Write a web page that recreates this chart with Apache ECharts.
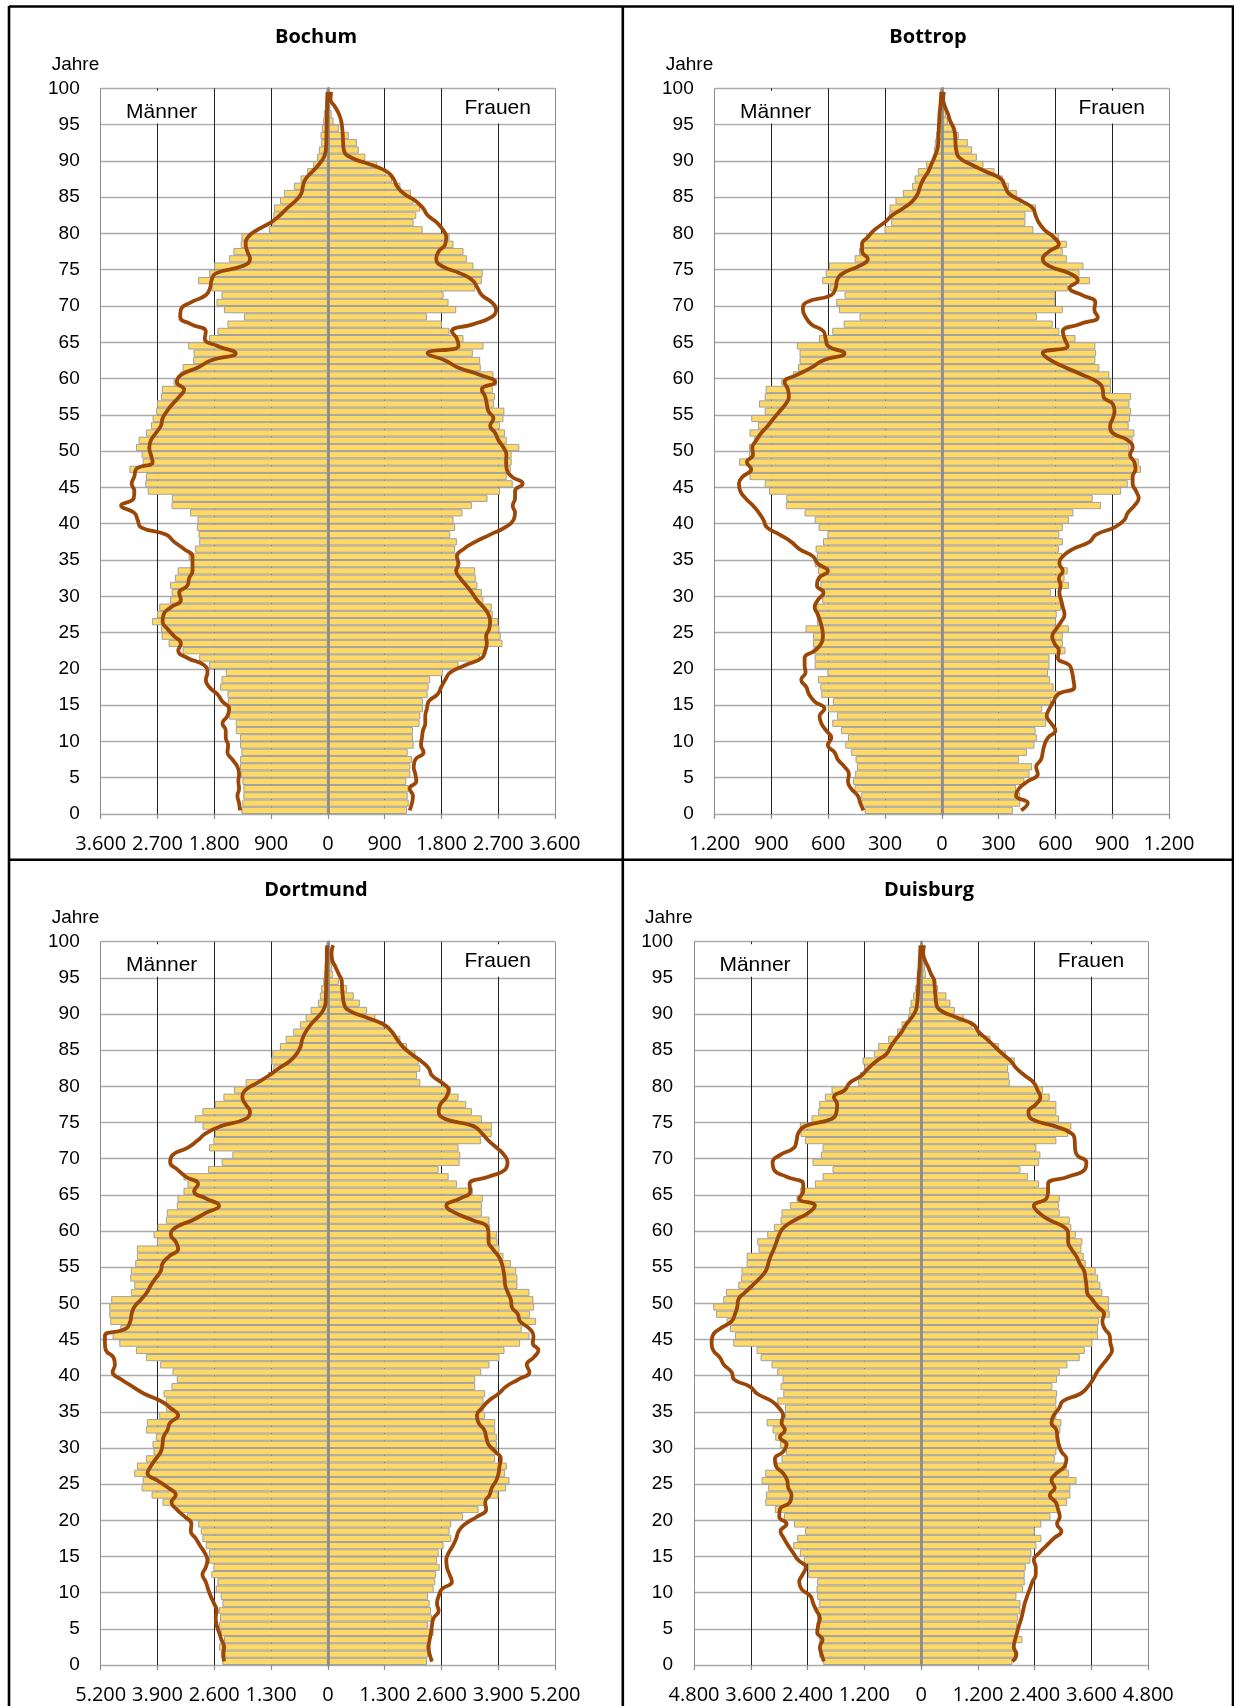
<!DOCTYPE html>
<html lang="de">
<head>
<meta charset="utf-8">
<title>Bevölkerungspyramiden</title>
<script src="https://cdn.jsdelivr.net/npm/echarts@6/dist/echarts.min.js"></script>
<style>
  html, body { margin: 0; padding: 0; background: #fff; }
  #chart { width: 1234px; height: 1706px; }
</style>
</head>
<body>
<div id="chart"></div>
<script>
// Altersjahre 0 bis 99 (Kategorien der Balken)
const ages = Array.from({ length: 100 }, (_, i) => i)

// Bochum
const bochumMen = [1370,1354,1339,1339,1354,1381,1391,1391,1370,1391, 1391,1460,1460,1565,1549,1581,1592,1707,1686,1618, 1881,2039,2303,2524,2635,2646,2788,2709,2672,2503, 2477,2503,2424,2382,2171,2208,2103,2039,2050,2076, 2066,2182,2477,2472,2856,2893,2883,3146,2935,2951, 3041,3000,2883,2804,2777,2719,2709,2646,2630,2445, 2340,2303,2134,2129,2213,1881,1750,1592,1328,1644, 1765,1686,1845,2055,1881,1802,1565,1497,1381,1370, 933,880,864,854,759,696,538,432,327,232, 169,142,105,116,95,74,63,42,32,21]
const bochumWomen = [1254,1281,1265,1281,1244,1307,1307,1333,1265,1360, 1349,1349,1454,1465,1507,1507,1581,1597,1623,1823, 2071,2414,2519,2767,2740,2719,2703,2614,2598,2466, 2440,2371,2345,2335,2045,2045,2018,2045,1939,2018, 1992,2134,2282,2530,2730,2930,2835,2899,2914,2914, 3035,2835,2809,2730,2783,2798,2635,2650,2614,2677, 2624,2424,2414,2298,2466,2150,1929,1808,1570,2034, 1913,1834,2335,2440,2456,2308,2203,2150,1992,1929, 1502,1360,1402,1465,1360,1318,1150,1017,928,780, 595,490,460,332,174,90,60,40,25,15]
const bochumMenLine = [1391,1407,1433,1407,1418,1407,1433,1512,1591,1581, 1618,1618,1671,1591,1565,1671,1750,1881,1934,1908, 1960,2224,2371,2329,2435,2540,2619,2603,2487,2329, 2356,2224,2198,2145,2145,2145,2277,2435,2566,2962, 3014,3067,3278,3077,3067,3109,3067,3041,2777,2804, 2830,2804,2725,2646,2619,2551,2461,2356,2277,2393, 2329,2066,1855,1460,1750,1950,1934,2171,2340,2329, 2171,1934,1866,1845,1776,1354,1233,1275,1302,1265, 1117,906,759,643,511,422,395,353,248,142, 63,32,25,22,20,18,15,12,10,5]
const bochumWomenLine = [1296,1333,1349,1296,1402,1386,1360,1386,1518,1476, 1491,1507,1544,1544,1570,1597,1739,1797,1860,1939, 2176,2440,2493,2519,2509,2556,2572,2545,2466,2361, 2282,2192,2097,2034,2071,2045,2150,2335,2572,2809, 2941,2967,2930,2967,2967,3088,2914,2835,2825,2830, 2783,2704,2651,2572,2624,2545,2519,2493,2440,2651, 2414,2071,1860,1581,2071,2045,1966,2308,2598,2667, 2598,2440,2371,2298,2097,1808,1718,1755,1860,1876, 1823,1729,1581,1507,1386,1202,1096,1043,938,675, 358,253,242,237,227,211,174,110,42,53]

// Bottrop
const bottropMen = [408,426,426,461,470,458,449,456,479,510, 496,532,579,554,602,576,637,642,655,605, 672,672,678,681,681,720,660,663,663,632, 625,642,646,655,672,660,667,628,605,651, 672,725,825,822,913,936,1016,1019,1072,1019, 1019,994,1016,972,1007,936,966,936,931,848, 787,760,752,752,766,649,579,519,435,544, 558,514,593,632,614,597,461,438,417,400, 303,268,280,276,245,206,157,144,127,83, 48,42,37,30,26,21,19,16,12,9]
const bottropWomen = [375,414,414,392,436,463,477,407,449,489, 502,495,551,551,530,577,618,590,572,561, 569,569,653,639,639,671,604,607,630,625, 577,671,648,665,630,635,618,639,621,639, 671,695,841,797,947,982,1008,1052,1040,1005, 991,1008,1017,987,994,1000,991,1000,894,894, 885,832,811,815,811,706,621,586,502,639, 600,600,665,783,727,748,660,639,660,618, 484,442,442,498,419,396,354,322,278,220, 185,160,137,90,58,32,23,18,14,11]
const bottropMenLine = [414,431,444,479,496,491,514,549,567,602, 584,611,637,646,620,672,702,716,743,720, 725,725,672,637,628,632,642,655,672,655, 625,660,650,602,655,681,752,796,857,924, 942,966,998,1037,1065,1072,1051,1007,1030,998, 1001,980,954,919,889,857,825,808,813,831, 766,690,628,514,602,614,625,690,720,734, 716,584,561,554,523,438,391,421,422,391, 356,303,262,202,153,127,114,97,72,56, 39,25,19,18,16,14,12,8,5,3]
const bottropWomenLine = [419,454,392,407,454,507,498,524,533,542, 560,600,577,554,568,590,613,700,695,688, 674,613,618,595,583,604,630,648,639,630, 621,627,618,639,621,639,692,780,815,912, 964,982,1017,1040,1026,1008,1008,1023,1017,994, 1008,982,903,889,903,912,903,854,850,824, 744,656,577,533,665,648,639,727,824,806, 811,741,674,718,674,568,533,565,618,590, 542,512,495,480,419,354,333,313,234,155, 90,76,72,70,63,44,32,16,7,11]

// Dortmund
const dortmundMen = [2414,2452,2490,2376,2452,2490,2468,2490,2414,2452, 2567,2529,2666,2620,2719,2719,2795,2871,2909,2970, 3229,3458,3785,4036,4265,4242,4432,4372,4166,3991, 4014,3938,4166,4143,3861,3709,3709,3762,3580,3458, 3557,3838,4166,4394,4775,4928,4752,4981,5004,5004, 4960,4509,4432,4524,4509,4410,4372,4372,3915,3991, 3899,3709,3686,3458,3442,3305,3214,3305,2742,2430, 2186,2719,2620,2589,2871,3046,2871,2589,2391,2148, 1881,1371,1249,1295,1272,1097,967,792,640,510, 396,228,183,152,107,91,69,53,46,30]
const dortmundWomen = [2270,2292,2270,2346,2422,2292,2384,2361,2330,2292, 2422,2460,2475,2559,2498,2536,2650,2825,2787,2825, 3092,3450,3640,3907,4082,4158,4059,4097,3831,3869, 3869,3869,3831,3831,3602,3564,3564,3602,3374,3374, 3511,3701,3930,4044,4402,4615,4440,4768,4630,4722, 4707,4615,4341,4341,4311,4189,4021,3930,3884,3869, 3717,3701,3526,3526,3549,3321,2955,2765,2536,3016, 3031,2993,3503,3755,3755,3526,3298,3168,2993,2818, 2117,2041,2117,2079,2003,1813,1660,1470,1295,1089, 899,731,594,442,251,122,99,76,61,46]
const dortmundMenLine = [2376,2391,2376,2437,2490,2544,2567,2544,2605,2681, 2742,2795,2871,2795,2757,2818,2925,3024,3138,3123, 3275,3458,3580,3481,3656,3899,4128,4052,3938,3823, 3785,3762,3671,3610,3427,3595,3823,4204,4471,4737, 4928,4874,4905,5080,5103,5103,4623,4524,4493,4432, 4280,4143,4052,3938,3823,3785,3633,3427,3481,3595, 3481,3100,2795,2490,2795,3062,2970,3252,3442,3610, 3557,3214,2985,2795,2452,1881,1782,1881,1957,1881, 1615,1348,1120,868,716,625,586,510,396,244, 107,53,46,38,38,30,30,23,23,15]
const dortmundWomenLine = [2384,2330,2308,2330,2361,2384,2422,2536,2498,2536, 2612,2841,2787,2726,2711,2765,2864,2940,2993,3145, 3412,3625,3602,3701,3755,3854,3907,3930,3960,3831, 3678,3625,3580,3450,3412,3526,3678,3907,4082,4364, 4615,4554,4707,4821,4692,4707,4615,4402,4349,4212, 4189,4120,4059,4044,4021,3983,3907,3778,3678,3678, 3656,3321,2917,2711,3031,3260,3244,3678,4059,4113, 4036,3869,3678,3526,3336,2688,2536,2574,2711,2765, 2612,2384,2308,2132,1904,1714,1584,1470,1295,899, 480,366,343,327,320,251,175,99,84,122]

// Duisburg
const duisburgMen = [2070,2154,2154,2154,2196,2211,2196,2196,2154,2196, 2211,2196,2387,2387,2478,2563,2703,2619,2457,2689, 2900,3091,3295,3281,3231,3372,3295,3055,2950,2858, 2985,3084,3140,3267,2879,2879,3041,2915,2971,2929, 3041,3161,3393,3478,3971,3935,4041,4111,4337,4393, 4182,4125,3865,3809,3795,3689,3689,3436,3464,3252, 3112,2971,2950,2774,2633,2563,2246,2084,1873,2295, 2119,2084,2457,2548,2563,2316,2175,2154,2035,1894, 1331,1295,1204,1239,1000,908,697,507,415,275, 253,225,169,127,84,70,56,42,28,14]
const duisburgWomen = [1929,1978,1978,2140,2028,2028,2049,2098,2098,2013, 2154,2189,2189,2211,2309,2330,2436,2541,2401,2541, 2732,2893,3084,3154,3154,3281,3126,3084,2823,2858, 2893,2858,2943,2964,2858,2858,2858,2872,2774,2872, 2929,3091,3351,3457,3619,3738,3738,3759,3985,3971, 3971,3830,3788,3738,3689,3478,3436,3386,3407,3267, 3175,3140,2929,2915,2929,2717,2492,2260,2098,2492, 2520,2436,2858,3105,3175,2915,2858,2858,2717,2577, 1873,1859,1837,1978,1788,1647,1464,1204,1084,901, 711,620,535,359,253,99,77,56,42,28]
const duisburgMenLine = [2056,2105,2140,2084,2196,2175,2140,2211,2281,2337, 2527,2577,2506,2436,2598,2703,2809,2900,2971,2844, 2999,2985,2774,2739,2809,2830,2915,3069,3091,2915, 2844,2985,2879,2950,2915,2999,3161,3464,3619,3956, 4006,4168,4252,4393,4428,4407,4252,4006,3935,3886, 3865,3724,3562,3407,3281,3231,3182,3112,3055,2999, 2900,2668,2387,2246,2577,2492,2492,2844,3112,3140, 2985,2689,2633,2598,2457,1894,1788,1774,1844,1612, 1506,1260,1119,943,732,641,535,415,324,204, 113,84,70,63,56,49,35,28,21,14]
const duisburgWomenLine = [1929,2013,1957,1985,2028,2070,2119,2154,2189,2239, 2295,2351,2422,2422,2380,2492,2647,2802,2964,2872, 2929,2893,2844,2717,2823,2753,2858,3034,3070,2964, 2908,2879,2858,2753,2802,2915,2999,3365,3527,3633, 3717,3830,3950,4034,3999,3985,3879,3830,3865,3738, 3619,3506,3492,3471,3443,3351,3281,3175,3105,3105, 3034,2717,2492,2380,2647,2682,2682,3105,3457,3492, 3295,3252,3245,3175,2823,2330,2267,2422,2520,2457, 2380,2190,2013,1894,1718,1556,1394,1218,1112,760, 408,317,303,289,282,211,148,77,42,63]

const cities = ['Bochum', 'Bottrop', 'Dortmund', 'Duisburg']
const axisMax = [3600, 1200, 5200, 4800]
const menBars = [bochumMen, bottropMen, dortmundMen, duisburgMen]
const womenBars = [bochumWomen, bottropWomen, dortmundWomen, duisburgWomen]
const menLines = [bochumMenLine, bottropMenLine, dortmundMenLine, duisburgMenLine]
const womenLines = [bochumWomenLine, bottropWomenLine, dortmundWomenLine, duisburgWomenLine]

// Lage der vier Diagramme (px)
const layout = [
  { left: 100.7, top: 88.3, width: 454.3, height: 725.7, center: 316 },
  { left: 714.7, top: 88.3, width: 454.3, height: 725.7, center: 928 },
  { left: 100.7, top: 941.7, width: 454.3, height: 723.3, center: 316 },
  { left: 694, top: 941.7, width: 454.3, height: 723.3, center: 929 }
]

const barFill = '#FFD966'
const barEdge = '#A0A0A0'
const lineBrown = '#9A4708'

const fmt = v => String(Math.abs(v)).replace(/\B(?=(\d{3})+(?!\d))/g, '.')

const chart = echarts.init(document.getElementById('chart'))

const grid = [], xAxis = [], yAxis = [], series = [], graphic = []

layout.forEach((g, i) => {
  grid.push({ left: g.left, top: g.top, width: g.width, height: g.height })

  xAxis.push({
    type: 'value', gridIndex: i,
    min: -axisMax[i], max: axisMax[i], interval: axisMax[i] / 4,
    axisLine: { show: false, onZero: false },
    axisTick: { show: true, length: 5, lineStyle: { color: '#8c8c8c', width: 1.2 } },
    axisLabel: { formatter: fmt, fontFamily: 'Open Sans', fontSize: 20, color: '#000', margin: 20 },
    splitLine: { show: true, lineStyle: { color: ['#8c8c8c', '#222', '#222', '#222', '#222', '#222', '#222', '#222', '#8c8c8c'], width: 1 } }
  })

  // Kategorienachse für die Balken, Achslinie als graue Mittellinie
  yAxis.push({
    type: 'category', gridIndex: i, data: ages, position: 'right', z: 3,
    axisLine: { show: true, onZero: true, lineStyle: { color: '#8a8a8a', width: 2.6 } },
    axisTick: { show: false }, axisLabel: { show: false }, splitLine: { show: false }
  })
  // Werteachse 0 bis 100 Jahre
  yAxis.push({
    type: 'value', gridIndex: i, position: 'left', min: 0, max: 100, interval: 5,
    axisLine: { show: false, onZero: false }, axisTick: { show: false },
    axisLabel: { fontFamily: 'Liberation Sans', fontSize: 19, color: '#000', margin: 21 },
    splitLine: { show: true, lineStyle: { color: '#ababab', width: 1.4 } }
  })

  series.push({
    type: 'bar', name: 'Männer', xAxisIndex: i, yAxisIndex: 2 * i,
    data: menBars[i].map(v => -v),
    barGap: '-100%', barCategoryGap: '0%',
    itemStyle: { color: barFill, borderColor: barEdge, borderWidth: 1 }, z: 2
  })
  series.push({
    type: 'bar', name: 'Frauen', xAxisIndex: i, yAxisIndex: 2 * i,
    data: womenBars[i],
    barGap: '-100%', barCategoryGap: '0%',
    itemStyle: { color: barFill, borderColor: barEdge, borderWidth: 1 }, z: 2
  })
  series.push({
    type: 'line', xAxisIndex: i, yAxisIndex: 2 * i + 1,
    data: ages.map(a => [-menLines[i][a], a + 0.5]),
    smooth: 0.5, symbol: 'none', lineStyle: { color: lineBrown, width: 3.8 }, z: 4
  })
  series.push({
    type: 'line', xAxisIndex: i, yAxisIndex: 2 * i + 1,
    data: ages.map(a => [womenLines[i][a], a + 0.5]),
    smooth: 0.5, symbol: 'none', lineStyle: { color: lineBrown, width: 3.8 }, z: 4
  })

  // Titel, Achsentitel und Beschriftungskästen
  graphic.push({ type: 'text', x: g.center, y: g.top - 51, z: 10,
    style: { text: cities[i], font: 'bold 20px "Open Sans"', fill: '#000', textAlign: 'center', textVerticalAlign: 'middle' } })
  graphic.push({ type: 'text', x: g.left - 49, y: g.top - 24, z: 10,
    style: { text: 'Jahre', font: '19px "Liberation Sans"', fill: '#000', textAlign: 'left', textVerticalAlign: 'middle' } })
  const boxH = g.height * 0.05 - 3.5
  graphic.push({ type: 'rect', z: 1, shape: { x: g.left + 1, y: g.top + 2.5, width: g.width / 4 - 1.5, height: boxH }, style: { fill: '#fff' } })
  graphic.push({ type: 'rect', z: 1, shape: { x: g.left + g.width * 0.75 + 0.8, y: g.top + 2.5, width: g.width / 4 - 1.5, height: boxH }, style: { fill: '#fff' } })
  graphic.push({ type: 'text', x: g.left + 61, y: g.top + 23.5, z: 10,
    style: { text: 'Männer', font: '21px "Liberation Sans"', fill: '#000', textAlign: 'center', textVerticalAlign: 'middle' } })
  graphic.push({ type: 'text', x: g.left + 397, y: g.top + 19.5, z: 10,
    style: { text: 'Frauen', font: '21px "Liberation Sans"', fill: '#000', textAlign: 'center', textVerticalAlign: 'middle' } })
})

// Rahmen um die vier Felder
const frame = [[9, 6.5, 1234, 6.5], [9, 6, 9, 1706], [622.8, 6, 622.8, 1706], [9, 859.7, 1234, 859.7], [1233, 6, 1233, 1706]]
frame.forEach(([x1, y1, x2, y2]) => {
  graphic.push({ type: 'line', z: 10, shape: { x1, y1, x2, y2 }, style: { stroke: '#000', lineWidth: 2.6 } })
})

chart.setOption({
  animation: false,
  backgroundColor: '#fff',
  grid, xAxis, yAxis, series,
  graphic: { elements: graphic }
})
</script>
</body>
</html>
